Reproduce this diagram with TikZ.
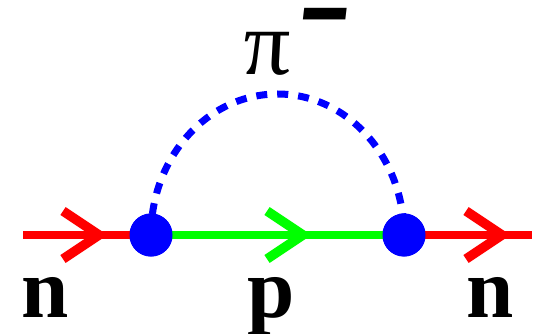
\documentclass[tikz,border=0pt]{standalone}
\usepackage{fontspec}
\setmainfont{Liberation Serif}
\newfontfamily\dashfont{Liberation Sans}
\newfontfamily\pifont[FakeSlant=-0.12]{Liberation Serif Italic}
\usetikzlibrary{decorations.markings}
\definecolor{pred}{RGB}{255,0,0}
\definecolor{pgreen}{RGB}{0,255,0}
\definecolor{pblue}{RGB}{0,0,255}
\tikzset{
  chev/.style={postaction={decorate},decoration={markings,
    mark=at position #1 with {\draw[line width=9.5pt,line join=miter,line cap=butt]
      (-36pt,24pt) -- (0,0) -- (-36pt,-24pt);}}},
  prop/.style={line width=8.5pt},
  vertex/.style={circle,fill=pblue,minimum size=43pt,inner sep=0pt},
  meson/.style={pblue,line width=7pt,dash pattern=on 11pt off 10pt},
  lbl/.style={anchor=base,font=\fontsize{85}{90}\selectfont\bfseries,inner sep=0pt}
}
\begin{document}
\begin{tikzpicture}[x=1pt,y=-1pt]
\useasboundingbox (0,0) rectangle (540,334);
\coordinate (a) at (23,235);
\coordinate (b) at (532,235);
\node[vertex] (v1) at (151,235) {};
\node[vertex] (v2) at (404,235) {};
\draw[meson] (v1.center) arc[start angle=180,end angle=0,x radius=126.5pt,y radius=141pt];
\draw[prop,pred,chev=76pt] (a) -- (v1.center);
\draw[prop,pgreen,chev=152pt] (v1.center) -- (v2.center);
\draw[prop,pred,chev=98pt] (v2.center) -- (b);
\node[vertex] at (v1) {};
\node[vertex] at (v2) {};
\node[lbl] (n1) at (45,317) {n};
\node[lbl] (pp) at (271,317) {p};
\node[lbl] (n2) at (490,317) {n};
\node[anchor=base,inner sep=0pt,font=\pifont\fontsize{92}{96}\selectfont] (pi) at (270,75) {π};
\node[anchor=base,inner sep=0pt,font=\dashfont\fontsize{78}{84}\selectfont\bfseries\itshape] (mn) at (325,46) {\raisebox{0pt}[0pt][0pt]{\scalebox{1.1}[1.5]{–}}};
\end{tikzpicture}
\end{document}
